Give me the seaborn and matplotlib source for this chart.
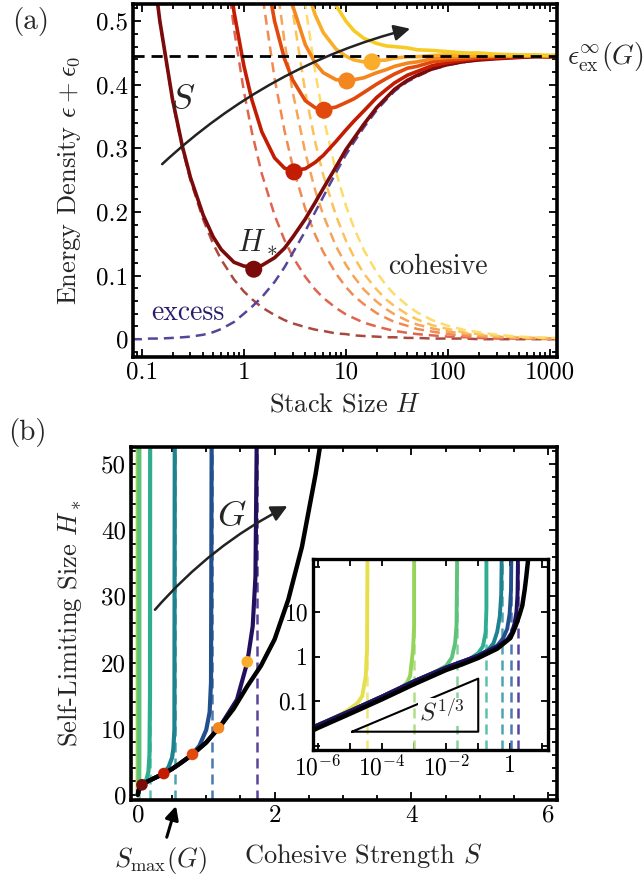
import numpy as np
import seaborn as sns
import matplotlib.pyplot as plt
from matplotlib.ticker import LogLocator, MultipleLocator, NullFormatter, NullLocator

# ---------------- panel (a): energy density vs stack size ----------------
stack_size = [0.08, 0.1, 0.12, 0.15, 0.2, 0.25, 0.3, 0.4, 0.5, 0.6, 0.8, 1, 1.2, 1.5, 2, 2.5,
              3, 4, 5, 6, 8, 10, 12, 15, 20, 25, 30, 40, 50, 70, 100, 150, 200, 300, 500,
              700, 1000, 1200]
excess = [0.000, 0.000, 0.001, 0.001, 0.002, 0.003, 0.004, 0.007, 0.011, 0.016, 0.027, 0.040,
          0.051, 0.066, 0.090, 0.113, 0.135, 0.170, 0.200, 0.224, 0.262, 0.290, 0.310, 0.333,
          0.360, 0.377, 0.390, 0.405, 0.413, 0.424, 0.431, 0.436, 0.439, 0.441, 0.443, 0.444,
          0.444, 0.445]
cohesive_1 = [0.938, 0.75, 0.625, 0.5, 0.375, 0.3, 0.25, 0.188, 0.15, 0.125, 0.094, 0.075,
              0.063, 0.05, 0.038, 0.03, 0.025, 0.019, 0.015, 0.013, 0.009, 0.008, 0.006, 0.005,
              0.004, 0.003, 0.003, 0.002, 0.002, 0.001, 0.001, 0.001, 0.0, 0.0, 0.0, 0.0, 0.0, 0.0]
cohesive_2 = [4.875, 3.9, 3.25, 2.6, 1.95, 1.56, 1.3, 0.975, 0.78, 0.65, 0.488, 0.39, 0.325,
              0.26, 0.195, 0.156, 0.13, 0.098, 0.078, 0.065, 0.049, 0.039, 0.033, 0.026, 0.02,
              0.016, 0.013, 0.01, 0.008, 0.006, 0.004, 0.003, 0.002, 0.001, 0.001, 0.001, 0.0, 0.0]
cohesive_3 = [10.25, 8.2, 6.83, 5.47, 4.1, 3.28, 2.73, 2.05, 1.64, 1.37, 1.025, 0.82, 0.683,
              0.547, 0.41, 0.328, 0.273, 0.205, 0.164, 0.137, 0.103, 0.082, 0.068, 0.055, 0.041,
              0.033, 0.027, 0.021, 0.016, 0.012, 0.008, 0.005, 0.004, 0.003, 0.002, 0.001,
              0.001, 0.001]
cohesive_4 = [14.6, 11.7, 9.75, 7.8, 5.85, 4.68, 3.9, 2.93, 2.34, 1.95, 1.46, 1.17, 0.975, 0.78,
              0.585, 0.468, 0.39, 0.293, 0.234, 0.195, 0.146, 0.117, 0.098, 0.078, 0.059, 0.047,
              0.039, 0.029, 0.023, 0.017, 0.012, 0.008, 0.006, 0.004, 0.002, 0.002, 0.001, 0.001]
cohesive_5 = [19.4, 15.5, 12.9, 10.3, 7.75, 6.2, 5.17, 3.88, 3.1, 2.58, 1.94, 1.55, 1.29, 1.03,
              0.775, 0.62, 0.517, 0.388, 0.31, 0.258, 0.194, 0.155, 0.129, 0.103, 0.078, 0.062,
              0.052, 0.039, 0.031, 0.022, 0.016, 0.01, 0.008, 0.005, 0.003, 0.002, 0.002, 0.001]
cohesive_6 = [26.3, 21.0, 17.5, 14.0, 10.5, 8.4, 7.0, 5.25, 4.2, 3.5, 2.63, 2.1, 1.75, 1.4, 1.05,
              0.84, 0.7, 0.525, 0.42, 0.35, 0.263, 0.21, 0.175, 0.14, 0.105, 0.084, 0.07, 0.053,
              0.042, 0.03, 0.021, 0.014, 0.011, 0.007, 0.004, 0.003, 0.002, 0.002]
eps_inf = 0.445
h_star = [1.25, 3.1, 6.1, 10.2, 18]
e_star = [0.11, 0.263, 0.36, 0.406, 0.436]

# ---------------- panel (b): self-limiting size vs cohesive strength ----------------
s_max = [3.5e-5, 1e-3, 0.022, 0.18, 0.54, 1.08, 1.74]
limit_S = [0, 0.01, 0.03, 0.06, 0.1, 0.2, 0.3, 0.4, 0.5, 0.6, 0.8, 1.0, 1.2, 1.4, 1.6, 1.8,
           2.0, 2.2, 2.4, 2.6, 2.7]
limit_H = [0, 0.6, 1.0, 1.5, 1.8, 2.3, 2.8, 3.3, 3.9, 4.6, 6.1, 7.9, 10.3, 13.0, 16.4, 19.5,
           23.5, 29.5, 37.5, 48.5, 55]
g1_S = [0, 3.5e-5, 3.5e-5]
g1_H = [0, 0.1, 55]
g2_S = [0, 5e-4, 1e-3, 1e-3]
g2_H = [0, 0.2, 0.5, 55]
g3_S = [0, 0.005, 0.01, 0.015, 0.02, 0.022, 0.022]
g3_H = [0, 0.5, 0.75, 1.0, 2.0, 5, 55]
g4_S = [0, 0.01, 0.03, 0.06, 0.1, 0.13, 0.155, 0.17, 0.178, 0.18]
g4_H = [0, 0.6, 1.0, 1.5, 1.9, 2.4, 3.5, 6, 15, 55]
g5_S = [0, 0.01, 0.03, 0.06, 0.1, 0.2, 0.3, 0.38, 0.45, 0.5, 0.52, 0.535, 0.54]
g5_H = [0, 0.6, 1.0, 1.5, 1.8, 2.3, 2.8, 3.3, 4.2, 5.6, 7, 10, 55]
g6_S = [0, 0.01, 0.03, 0.06, 0.1, 0.2, 0.3, 0.4, 0.5, 0.6, 0.7, 0.8, 0.9, 1.0, 1.05, 1.07, 1.08]
g6_H = [0, 0.6, 1.0, 1.5, 1.8, 2.3, 2.8, 3.3, 3.9, 4.6, 5.3, 6.2, 7.4, 9.8, 12.5, 17, 55]
g7_S = [0, 0.01, 0.03, 0.06, 0.1, 0.2, 0.3, 0.4, 0.5, 0.6, 0.8, 1.0, 1.2, 1.45, 1.6, 1.68, 1.72, 1.74]
g7_H = [0, 0.6, 1.0, 1.5, 1.8, 2.3, 2.8, 3.3, 3.9, 4.6, 6.1, 7.9, 10.3, 14.4, 20, 25.5, 33, 55]
dot_S = [0.06, 0.38, 0.8, 1.18, 1.6]
dot_H = [1.5, 3.2, 6.1, 10.1, 20.1]

# inset (log-log)
in_limit_S = [7e-7, 1e-6, 1e-5, 1e-4, 1e-3, 1e-2, 0.03, 0.1, 0.39, 1.0, 1.24, 1.58, 2.0, 2.37,
              2.82, 3.16, 3.63]
in_limit_H = [0.022, 0.025, 0.052, 0.11, 0.24, 0.5, 0.66, 0.93, 1.5, 2.6, 3.6, 5.6, 9.3, 14,
              32, 63, 160]
in_g1_S = [7e-7, 1e-6, 3e-6, 6e-6, 1e-5, 1.7e-5, 2.4e-5, 3.1e-5, 3.4e-5, 3.5e-5]
in_g1_H = [0.026, 0.029, 0.042, 0.054, 0.068, 0.09, 0.13, 0.37, 1.5, 200]
in_g2_S = [7e-7, 1e-6, 1e-5, 1e-4, 3.6e-4, 6e-4, 7.5e-4, 9.3e-4, 1e-3, 1e-3]
in_g2_H = [0.026, 0.029, 0.06, 0.127, 0.19, 0.26, 0.37, 1.5, 5, 200]
in_g3_S = [7e-7, 1e-6, 1e-5, 1e-4, 1e-3, 5e-3, 0.01, 0.015, 0.019, 0.021, 0.022]
in_g3_H = [0.026, 0.029, 0.06, 0.127, 0.28, 0.47, 0.62, 0.95, 2.0, 5, 200]
in_g4_S = [7e-7, 1e-6, 1e-5, 1e-4, 1e-3, 1e-2, 0.05, 0.1, 0.14, 0.17, 0.18, 0.18]
in_g4_H = [0.026, 0.029, 0.06, 0.127, 0.28, 0.57, 0.85, 1.2, 1.7, 3.5, 12, 200]
in_g5_S = [7e-7, 1e-6, 1e-5, 1e-4, 1e-3, 1e-2, 0.1, 0.2, 0.3, 0.39, 0.47, 0.52, 0.54]
in_g5_H = [0.026, 0.029, 0.06, 0.127, 0.28, 0.57, 1.05, 1.4, 2.0, 3.6, 8, 25, 200]
in_g6_S = [7e-7, 1e-6, 1e-5, 1e-4, 1e-3, 1e-2, 0.1, 0.39, 0.6, 0.8, 0.95, 1.05, 1.08]
in_g6_H = [0.026, 0.029, 0.06, 0.127, 0.28, 0.57, 1.05, 1.75, 2.6, 4.2, 9, 30, 200]
in_g7_S = [7e-7, 1e-6, 1e-5, 1e-4, 1e-3, 1e-2, 0.1, 0.39, 0.8, 1.1, 1.35, 1.55, 1.68, 1.74]
in_g7_H = [0.026, 0.029, 0.06, 0.127, 0.28, 0.57, 1.05, 1.7, 2.4, 3.4, 5.5, 10, 25, 200]
slope_guide_S = [1.15e-5, 0.1, 0.1, 1.15e-5]
slope_guide_H = [0.0206, 0.0206, 0.32, 0.0206]

# colours
s_colors = ['#7b0a0a', '#c21d03', '#e2490d', '#f3861f', '#f9ad2a', '#f7cb26']
s_dash = ['#a9483f', '#e0644d', '#f08a50', '#f6a456', '#fbc25a', '#fcdc6a']
excess_color = '#55469b'
g_colors = ['#e6df4b', '#95d35a', '#5ec27a', '#2fae8f', '#1f8290', '#22508c', '#22105f']
g_dash = ['#ede77c', '#b0de88', '#85d29a', '#5cc2ad', '#4ea3b2', '#4b79b2', '#5a429e']

sns.set_style('ticks')
plt.rcParams['font.family'] = ['cmr10', 'DejaVu Serif']
plt.rcParams['mathtext.fontset'] = 'cm'
plt.rcParams['axes.unicode_minus'] = False
plt.rcParams['axes.formatter.use_mathtext'] = True

FS = 18
DASH = (0, (4, 2.4))

fig = plt.figure(figsize=(6.44, 8.8), dpi=100)
ax_a = fig.add_axes([133/644, 1-357/880, 424/644, 353/880])
ax_b = fig.add_axes([131/644, 1-800/880, 426/644, 353/880])
ax_in = fig.add_axes([313/644, 1-750/880, 235/644, 191/880])


def frame(ax, lw=2.6):
    for sp in ax.spines.values():
        sp.set_linewidth(lw)
        sp.set_color('black')
    ax.tick_params(which='both', direction='in', top=True, right=True, labelsize=FS,
                   width=1.3, colors='black')
    ax.tick_params(which='major', length=6)
    ax.tick_params(which='minor', length=3.5)


# ---- (a)
H = np.array(stack_size)
ex = np.array(excess)
cohesive = [cohesive_1, cohesive_2, cohesive_3, cohesive_4, cohesive_5, cohesive_6]
for k, coh in enumerate(cohesive):
    sns.lineplot(x=H, y=coh, ax=ax_a, color=s_dash[k], lw=1.8, linestyle=DASH,
                 estimator=None, sort=False, legend=False, zorder=1)
sns.lineplot(x=H, y=ex, ax=ax_a, color=excess_color, lw=1.8, linestyle=DASH,
             estimator=None, sort=False, legend=False, zorder=1)
for k, coh in enumerate(cohesive):
    sns.lineplot(x=H, y=ex + np.array(coh), ax=ax_a, color=s_colors[k], lw=2.6,
                 estimator=None, sort=False, legend=False, zorder=2)
ax_a.axhline(eps_inf, color='black', lw=2, linestyle=(0, (4, 2.5)), zorder=3)
sns.scatterplot(x=h_star, y=e_star, hue=[str(i) for i in range(5)], palette=s_colors[:5],
                s=150, edgecolor='none', legend=False, ax=ax_a, zorder=4)
ax_a.set_xscale('log')
ax_a.set_xlim(0.082, 1170)
ax_a.set_ylim(-0.028, 0.527)
ax_a.set_xticks([0.1, 1, 10, 100, 1000], ['0.1', '1', '10', '100', '1000'])
ax_a.xaxis.set_minor_locator(LogLocator(base=10, subs=np.arange(2, 10)))
ax_a.xaxis.set_minor_formatter(NullFormatter())
ax_a.set_yticks([0, 0.1, 0.2, 0.3, 0.4, 0.5], ['0', '0.1', '0.2', '0.3', '0.4', '0.5'])
ax_a.yaxis.set_minor_locator(MultipleLocator(0.02))
frame(ax_a)
ax_a.set_xlabel('Stack Size $H$', fontsize=FS + 1)
ax_a.set_ylabel(r'Energy Density $\epsilon+\epsilon_0$', fontsize=FS + 1)
ax_a.xaxis.set_label_coords(0.5, -0.1)
ax_a.yaxis.set_label_coords(-0.118, 0.5)

ax_a.annotate('', xy=(0.660, 0.932), xytext=(0.064, 0.541), xycoords='axes fraction',
              arrowprops=dict(arrowstyle='-|>', connectionstyle='arc3,rad=-0.13',
                              lw=1.8, color='#222222', mutation_scale=24))
fig.text(0.284, 0.886, '$S$', fontsize=26, ha='center', va='center')
fig.text(0.399, 0.725, '$H_*$', fontsize=22, ha='center', va='center')
fig.text(0.680, 0.697, 'cohesive', fontsize=20, ha='center', va='center')
fig.text(0.292, 0.644, 'excess', fontsize=20, ha='center', va='center', color='#2b1d6b')
fig.text(0.880, 0.935, r'$\epsilon_{\rm ex}^{\infty}(G)$', fontsize=20, ha='left', va='center')
fig.text(0.047, 0.975, '(a)', fontsize=21, ha='center', va='center')

# ---- (b)
main_curves = [(g1_S, g1_H), (g2_S, g2_H), (g3_S, g3_H), (g4_S, g4_H),
               (g5_S, g5_H), (g6_S, g6_H), (g7_S, g7_H)]
for k, s in enumerate(s_max):
    ax_b.axvline(s, color=g_dash[k], lw=1.8, linestyle=DASH, zorder=1)
for k, (xs, ys) in enumerate(main_curves):
    sns.lineplot(x=xs, y=ys, ax=ax_b, color=g_colors[k], lw=3, estimator=None, sort=False,
                 legend=False, zorder=2)
sns.lineplot(x=limit_S, y=limit_H, ax=ax_b, color='black', lw=3.2, estimator=None, sort=False,
             legend=False, zorder=3)
sns.scatterplot(x=dot_S, y=dot_H, hue=[str(i) for i in range(5)], palette=s_colors[:5],
                s=70, edgecolor='none', legend=False, ax=ax_b, zorder=4)
ax_b.set_xlim(-0.1, 6.13)
ax_b.set_ylim(-0.8, 52.6)
ax_b.set_xticks([0, 2, 4, 6], ['0', '2', '4', '6'])
ax_b.xaxis.set_minor_locator(MultipleLocator(0.5))
ax_b.set_yticks([0, 10, 20, 30, 40, 50], ['0', '10', '20', '30', '40', '50'])
ax_b.yaxis.set_minor_locator(MultipleLocator(2))
frame(ax_b)
ax_b.set_xlabel('Cohesive Strength $S$', fontsize=FS + 1)
ax_b.set_ylabel('Self-Limiting Size $H_*$', fontsize=FS + 1)
ax_b.xaxis.set_label_coords(0.545, -0.115)
ax_b.yaxis.set_label_coords(-0.11, 0.5)

ax_b.annotate('', xy=(0.373, 0.836), xytext=(0.052, 0.533), xycoords='axes fraction',
              arrowprops=dict(arrowstyle='-|>', connectionstyle='arc3,rad=-0.1',
                              lw=1.8, color='#222222', mutation_scale=24))
fig.text(0.360, 0.4125, '$G$', fontsize=26, ha='center', va='center')
fig.text(0.043, 0.509, '(b)', fontsize=21, ha='center', va='center')
ax_b.annotate(r'$S_{\max}(G)$', xy=(176/644, 1-806/880), xycoords='figure fraction',
              xytext=(160/644, 1-860/880), textcoords='figure fraction', fontsize=FS + 1,
              ha='center', va='center',
              arrowprops=dict(arrowstyle='-|>', lw=2.2, color='black', mutation_scale=20,
                              shrinkA=3, shrinkB=0))

# ---- inset
inset_curves = [(in_g1_S, in_g1_H), (in_g2_S, in_g2_H), (in_g3_S, in_g3_H), (in_g4_S, in_g4_H),
                (in_g5_S, in_g5_H), (in_g6_S, in_g6_H), (in_g7_S, in_g7_H)]
ax_in.set_facecolor('white')
for k, s in enumerate(s_max):
    ax_in.axvline(s, color=g_dash[k], lw=1.8, linestyle=DASH, zorder=1)
for k, (xs, ys) in enumerate(inset_curves):
    sns.lineplot(x=xs, y=ys, ax=ax_in, color=g_colors[k], lw=2.8, estimator=None, sort=False,
                 legend=False, zorder=2)
sns.lineplot(x=in_limit_S, y=in_limit_H, ax=ax_in, color='black', lw=3.2, estimator=None,
             sort=False, legend=False, zorder=3)
ax_in.plot(slope_guide_S, slope_guide_H, color='black', lw=1.5, zorder=4)
ax_in.text(0.549, 0.2, '$S^{1/3}$', transform=ax_in.transAxes, fontsize=FS, ha='center',
           va='center', zorder=5,
           bbox=dict(facecolor='white', edgecolor='none', pad=0.5))
ax_in.set_xscale('log')
ax_in.set_yscale('log')
ax_in.set_xlim(7e-7, 15)
ax_in.set_ylim(0.008, 155)
ax_in.set_xticks([1e-6, 1e-5, 1e-4, 1e-3, 1e-2, 1e-1, 1, 10],
                 ['$10^{-6}$', '', '$10^{-4}$', '', '$10^{-2}$', '', '1', ''])
ax_in.xaxis.set_minor_locator(NullLocator())
ax_in.set_yticks([0.01, 0.1, 1, 10, 100], ['', '0.1', '1', '10', ''])
ax_in.yaxis.set_minor_locator(LogLocator(base=10, subs=(2, 5)))
ax_in.yaxis.set_minor_formatter(NullFormatter())
frame(ax_in, lw=2.4)
ax_in.tick_params(which='major', length=5, labelsize=FS - 1)

fig.savefig('out.png', dpi=100)
